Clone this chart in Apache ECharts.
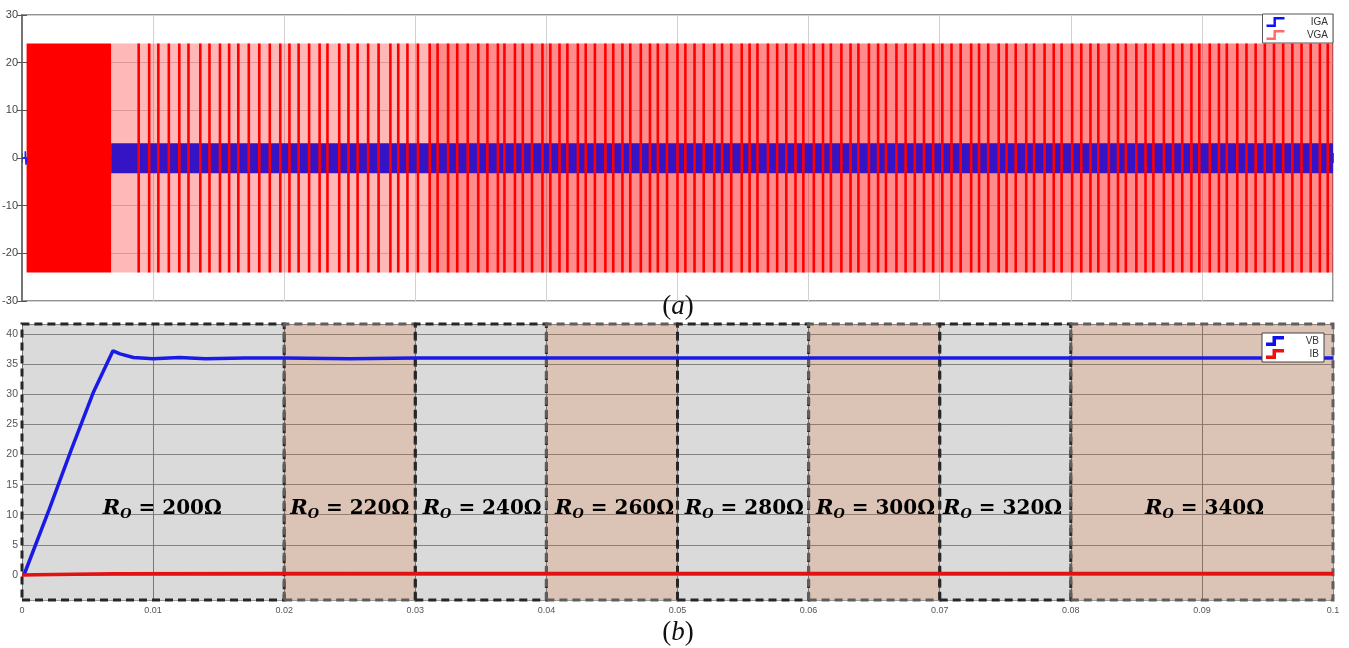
<!DOCTYPE html>
<html><head><meta charset="utf-8">
<script src="https://cdn.jsdelivr.net/npm/echarts@6/dist/echarts.min.js"></script>
<style>html,body{margin:0;padding:0;background:#fff}#c{width:1349px;height:648px}</style>
</head><body><div id="c"></div>
<script>
// ================= DATA (times in ms, converted to s for the axis) =================
const xTickLabels = ['0','0.01','0.02','0.03','0.04','0.05','0.06','0.07','0.08','0.09','0.1'];
const topYTicks = [-30,-20,-10,0,10,20,30];
const botYTicks = [0,5,10,15,20,25,30,35,40];

// (a) VGA: switching gate voltage +-24 V
const vgaLevel = [-24, 24];
const vgaBlockMs = [0.35, 6.8];          // solid switching block at start-up
const vgaBandMs = [6.8, 31, 100];        // lighter dense-switching band, then denser band
const vgaStripesMs = [
  8.9, 9.7, 10.4, 11.2, 12.0, 12.7, 13.6, 14.3, 15.1, 15.8, 16.5, 17.3, 18.1, 18.9, 19.7, 20.4,
  21.1, 21.9, 22.7, 23.3, 24.2, 24.9, 25.6, 26.4, 27.2, 28.1, 28.7, 29.4, 30.2, 31.1, 31.7, 32.5,
  33.2, 34.0, 34.8, 35.5, 36.3, 36.8,
  37.6, 38.2, 38.9, 39.7, 40.3, 41.0, 41.6, 42.4, 43.0, 43.7, 44.5, 45.1, 45.8, 46.4, 47.2, 47.9,
  48.5, 49.2, 50.0, 50.6, 51.3, 52.0, 52.8, 53.4, 54.1, 54.9, 55.5, 56.1, 56.9, 57.6, 58.3, 59.0,
  59.6, 60.4, 61.1, 61.7, 62.5, 63.2, 63.8, 64.6, 65.3, 65.9, 66.7, 67.4, 68.1, 68.8,
  69.5, 70.2, 70.9, 71.6, 72.4, 73.0, 73.7, 74.5, 75.1, 75.8, 76.6, 77.2, 78.0, 78.7, 79.3, 80.1,
  80.8, 81.5, 82.1, 82.9, 83.6, 84.2, 85.0, 85.7, 86.3, 87.1, 87.8, 88.5, 89.2, 89.8, 90.6, 91.3,
  91.9, 92.7, 93.4, 94.1, 94.8, 95.5, 96.2, 96.9, 97.6, 98.3, 99.0, 99.6
];
// (a) IGA: gate current band (+-3 A) after start-up, small blip at t=0
const igaBandMs = [6.8, 100];
const igaEnvelope = [-3.2, 3.1];
const igaStartMs = [0, 0.25, 0.25, 0.3, 0.3, 0.4];
const igaStartA  = [0, 0, 1.4, 1.4, -1.4, 0];

// (b) VB and IB
const vbMs = [0.15, 2.06, 3.74, 5.42, 6.94, 7.48, 8.5, 10, 12, 14, 17, 20, 25, 30, 40, 50, 60, 70, 80, 90, 100];
const vbV  = [0, 10.8, 20.7, 30.2, 37.2, 36.7, 36.1, 35.9, 36.1, 35.9, 36.0, 36.0, 35.9, 36.0, 36.0, 36.0, 36.0, 36.0, 36.0, 36.0, 36.0];
const ibMs = [0, 1, 7, 20, 100];
const ibA  = [0, 0.05, 0.2, 0.25, 0.25];

// load regions
const regionMs = [0, 20, 30, 40, 50, 60, 70, 80, 100];
const regionKind = ['g','t','g','t','g','t','g','t'];
const loadOhm = [200, 220, 240, 260, 280, 300, 320, 340];
const labelMs = [10.7, 25.0, 35.1, 45.2, 55.1, 65.1, 74.8, 90.2];
const labelY = 11;

// ================= CHART =================
const s = ms => ms / 1000;
const stair = 'path://M0,7.6 L7,7.6 L7,0 L18,0 L18,2.4 L9.4,2.4 L9.4,10 L0,10 Z';
const stairBold = 'path://M0,6.6 L6.5,6.6 L6.5,0 L18,0 L18,3.4 L10,3.4 L10,10 L0,10 Z';

const stripeData = [];
vgaStripesMs.forEach(t => { stripeData.push([s(t), vgaLevel[0]], [s(t), vgaLevel[1]], [s(t), '-']); });

const regionAreas = regionKind.map((k, i) => [
  { xAxis: s(regionMs[i]), yAxis: 'min',
    itemStyle: k === 'g'
      ? { color: 'rgba(0,0,0,0.145)', borderColor: '#262626' }
      : { color: 'rgba(135,60,10,0.30)', borderColor: '#5e5e5e' } },
  { xAxis: s(regionMs[i + 1]), yAxis: 'max' }
]);

const chart = echarts.init(document.getElementById('c'), null, { renderer: 'canvas' });
const axisLabelTop = { fontSize: 11, color: '#444', margin: 4, fontFamily: 'Liberation Sans' };

chart.setOption({
  animation: false,
  backgroundColor: '#fff',
  grid: [
    { left: 22, right: 16, top: 15, height: 286, containLabel: false, outerBoundsMode: 'none',
      show: true, borderColor: '#707070', borderWidth: 1.5, backgroundColor: '#fff' },
    { left: 22, right: 16, top: 324, height: 276, containLabel: false, outerBoundsMode: 'none' }
  ],
  xAxis: [
    { gridIndex: 0, type: 'value', min: 0, max: 0.1, interval: 0.01,
      axisLabel: { show: false }, axisLine: { lineStyle: { color: '#707070', width: 1.5 } },
      axisTick: { inside: true, length: 5, lineStyle: { color: '#555' } },
      splitLine: { show: true, lineStyle: { color: '#d2d2d2' } } },
    { gridIndex: 0, type: 'value', position: 'top', min: 0, max: 0.1, interval: 0.01,
      axisLabel: { show: false }, axisLine: { lineStyle: { color: '#707070', width: 1.5 } },
      axisTick: { inside: true, length: 5, lineStyle: { color: '#555' } }, splitLine: { show: false } },
    { gridIndex: 1, type: 'value', min: 0, max: 0.1, interval: 0.01,
      axisLine: { show: false }, axisTick: { show: false },
      axisLabel: { fontSize: 9, color: '#555', margin: 6, fontFamily: 'Liberation Sans',
        formatter: v => xTickLabels[Math.round(v * 100)] },
      splitLine: { show: true, lineStyle: { color: '#8c8c8c' } } }
  ],
  yAxis: [
    { gridIndex: 0, type: 'value', min: topYTicks[0], max: topYTicks[topYTicks.length - 1], interval: 10,
      axisLabel: axisLabelTop, axisLine: { show: true, lineStyle: { color: '#707070', width: 1.5 } },
      axisTick: { inside: true, length: 5, lineStyle: { color: '#555' } },
      splitLine: { show: true, lineStyle: { color: '#d2d2d2' } } },
    { gridIndex: 0, type: 'value', position: 'right', min: -30, max: 30, interval: 10,
      axisLabel: { show: false }, axisLine: { show: true, lineStyle: { color: '#707070', width: 1.5 } },
      axisTick: { inside: true, length: 5, lineStyle: { color: '#555' } }, splitLine: { show: false } },
    { gridIndex: 1, type: 'value', min: -4.15, max: 41.66, splitNumber: 9,
      axisLine: { show: false }, axisTick: { show: false },
      axisLabel: { fontSize: 10.5, color: '#555', margin: 4, fontFamily: 'Liberation Sans',
        showMinLabel: false, showMaxLabel: false,
        formatter: v => (botYTicks.indexOf(Math.round(v * 100) / 100) >= 0 ? String(v) : '') },
      splitLine: { show: true, lineStyle: { color: '#9a9a9a' } } }
  ],
  legend: [
    { orient: 'vertical', right: 16, top: 14, itemWidth: 19, itemHeight: 10, itemGap: 3,
      backgroundColor: '#fff', borderColor: '#555', borderWidth: 1, borderRadius: 0, padding: [3, 5, 3, 4],
      selectedMode: false,
      data: [ { name: 'IGA', icon: stair, itemStyle: { color: '#1010ff' } },
              { name: 'VGA', icon: stair, itemStyle: { color: '#ff6a6a' } } ],
      formatter: n => '{t|' + n + '}',
      textStyle: { rich: { t: { width: 38, align: 'right', fontSize: 10, color: '#333', fontFamily: 'Liberation Sans' } } } },
    { orient: 'vertical', right: 25, top: 333, itemWidth: 18, itemHeight: 10, itemGap: 3,
      backgroundColor: '#fff', borderColor: '#444', borderWidth: 1, borderRadius: 0, padding: [3, 5, 3, 4],
      selectedMode: false,
      data: [ { name: 'VB', icon: stairBold, itemStyle: { color: '#1010ee' } },
              { name: 'IB', icon: stairBold, itemStyle: { color: '#ee1010' } } ],
      formatter: n => '{t|' + n + '}',
      textStyle: { rich: { t: { width: 30, align: 'right', fontSize: 10, color: '#333', fontFamily: 'Liberation Sans' } } } }
  ],
  graphic: [
    { type: 'text', x: 678, y: 307, z: 100, style: { text: '{p|(}{i|a}{p|)}', align: 'center', verticalAlign: 'middle',
      rich: { p: { fontFamily: 'Liberation Serif', fontSize: 27, fill: '#111' },
              i: { fontFamily: 'Liberation Serif', fontStyle: 'italic', fontSize: 27, fill: '#111' } } } },
    { type: 'text', x: 678, y: 633, z: 100, style: { text: '{p|(}{i|b}{p|)}', align: 'center', verticalAlign: 'middle',
      rich: { p: { fontFamily: 'Liberation Serif', fontSize: 27, fill: '#111' },
              i: { fontFamily: 'Liberation Serif', fontStyle: 'italic', fontSize: 27, fill: '#111' } } } }
  ],
  series: [
    // ---- (a) ----
    { name: 'VGA', type: 'line', xAxisIndex: 0, yAxisIndex: 0, symbol: 'none', silent: true,
      data: [[s(vgaBandMs[0]), vgaLevel[1]], [s(vgaBandMs[1]), vgaLevel[1]]],
      lineStyle: { width: 0 }, areaStyle: { origin: vgaLevel[0], color: 'rgba(255,0,0,0.28)', opacity: 1 }, color: '#ff0000' },
    { name: 'VGA', type: 'line', xAxisIndex: 0, yAxisIndex: 0, symbol: 'none', silent: true,
      data: [[s(vgaBandMs[1]), vgaLevel[1]], [s(vgaBandMs[2]), vgaLevel[1]]],
      lineStyle: { width: 0 }, areaStyle: { origin: vgaLevel[0], color: 'rgba(255,0,0,0.45)', opacity: 1 }, color: '#ff0000' },
    { name: 'VGA', type: 'line', xAxisIndex: 0, yAxisIndex: 0, symbol: 'none', silent: true,
      data: [[s(vgaBlockMs[0]), vgaLevel[1]], [s(vgaBlockMs[1]), vgaLevel[1]]],
      lineStyle: { width: 0 }, areaStyle: { origin: vgaLevel[0], color: '#ff0000', opacity: 1 }, color: '#ff0000' },
    { name: 'IGA', type: 'line', xAxisIndex: 0, yAxisIndex: 0, symbol: 'none', silent: true,
      data: [[s(igaBandMs[0]), igaEnvelope[1]], [s(igaBandMs[1]), igaEnvelope[1]]],
      lineStyle: { width: 0 }, areaStyle: { origin: igaEnvelope[0], color: '#3414c4', opacity: 1 }, color: '#1010ff' },
    { name: 'IGA', type: 'line', xAxisIndex: 0, yAxisIndex: 0, symbol: 'none', silent: true,
      data: igaStartMs.map((t, i) => [s(t), igaStartA[i]]),
      lineStyle: { width: 1.5, color: '#2020ff' }, color: '#1010ff' },
    { name: 'VGA', type: 'line', xAxisIndex: 0, yAxisIndex: 0, symbol: 'none', silent: true, connectNulls: false,
      data: stripeData, lineStyle: { width: 2.6, color: '#ff0000' }, color: '#ff0000' },
    // ---- (b) ----
    { name: 'regions', type: 'line', xAxisIndex: 2, yAxisIndex: 2, data: [], silent: true, z: 1,
      markArea: { silent: true, itemStyle: { borderWidth: 3, borderType: [8, 5] }, data: regionAreas } },
    { name: 'VB', type: 'line', xAxisIndex: 2, yAxisIndex: 2, symbol: 'none', z: 3,
      data: vbMs.map((t, i) => [s(t), vbV[i]]), lineStyle: { width: 3.5, color: '#1a1ae6' }, color: '#1a1ae6' },
    { name: 'IB', type: 'line', xAxisIndex: 2, yAxisIndex: 2, symbol: 'none', z: 3,
      data: ibMs.map((t, i) => [s(t), ibA[i]]), lineStyle: { width: 3.5, color: '#e31212' }, color: '#e31212' },
    { name: 'labels', type: 'scatter', xAxisIndex: 2, yAxisIndex: 2, symbolSize: 0, z: 5, silent: true,
      itemStyle: { opacity: 1 },
      data: labelMs.map((t, i) => [s(t), labelY]),
      label: { show: true, position: 'inside',
        formatter: p => '{r|R}{o|O}{v| = ' + loadOhm[p.dataIndex] + 'Ω}',
        rich: {
          r: { fontFamily: 'DejaVu Serif', fontWeight: 'bold', fontStyle: 'italic', fontSize: 21, color: '#000', lineHeight: 24 },
          o: { fontFamily: 'DejaVu Serif', fontWeight: 'bold', fontStyle: 'italic', fontSize: 13, color: '#000', padding: [12, 0, 0, 0] },
          v: { fontFamily: 'DejaVu Serif', fontWeight: 'bold', fontSize: 20, color: '#000', lineHeight: 24 }
        } } }
  ]
});
</script></body></html>
